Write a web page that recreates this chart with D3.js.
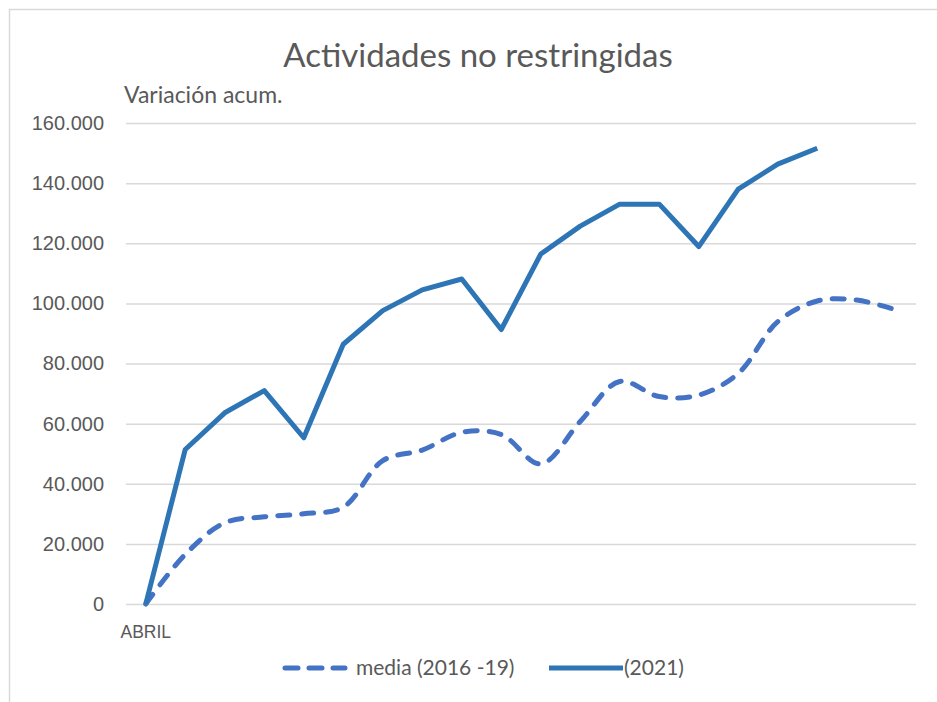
<!DOCTYPE html>
<html>
<head>
<meta charset="utf-8">
<script src="https://cdn.jsdelivr.net/npm/d3@7"></script>
<style>
  body { margin: 0; background: #fff; }
  svg { display: block; font-family: Lato, "Open Sans", sans-serif; }
</style>
</head>
<body>
<div id="chart"></div>
<script>
// Data (cumulative variation)
const categories = ["ABRIL", "", "", "", "", "", "", "", "", "", "", "", "", "", "", "", "", "", "", ""];
const media = [0, 16500, 27000, 29000, 30000, 32200, 47700, 51200, 57100, 56400, 46600, 60700, 74000, 69000, 69500, 76700, 93900, 100800, 101100, 97800];
const y2021 = [0, 51400, 63600, 71000, 55300, 86400, 97600, 104500, 108100, 91300, 116400, 125700, 133000, 133000, 118900, 138000, 146300, 151600];
const yTicks = [0, 20000, 40000, 60000, 80000, 100000, 120000, 140000, 160000];
const seriesNames = ["media (2016 -19)", "(2021)"];

const width = 937, height = 702;
const margin = { top: 123, right: 21, bottom: 98, left: 126 };
const colors = { media: "#4472C4", y2021: "#2E75B6", text: "#595959", grid: "#d9d9d9" };

const svg = d3.select("#chart").append("svg").attr("width", width).attr("height", height);

// light frame of the original chart area
svg.append("rect").attr("x", 9.5).attr("y", 9.5).attr("width", 1000).attr("height", 1000)
  .attr("fill", "none").attr("stroke", colors.grid).attr("stroke-width", 1.5);

const x = d3.scaleBand().domain(d3.range(categories.length)).range([margin.left, width - margin.right]);
const y = d3.scaleLinear().domain([0, 160000]).range([height - margin.bottom, margin.top]);
const cx = i => x(i) + x.bandwidth() / 2;

const fmt = v => v === 0 ? "0" : d3.format(",")(v).replace(/,/g, ".");

// gridlines + y labels
const yAxis = svg.append("g").attr("transform", `translate(${margin.left},0)`)
  .call(d3.axisLeft(y).tickValues(yTicks).tickFormat(fmt)
    .tickSize(-(width - margin.left - margin.right)).tickPadding(22));
yAxis.select(".domain").remove();
yAxis.selectAll(".tick line").attr("stroke", colors.grid).attr("stroke-width", 1.5);
yAxis.selectAll(".tick text").attr("fill", colors.text).style("font-size", "20px");

// category labels
const xAxis = svg.append("g").attr("transform", `translate(0,${height - margin.bottom})`)
  .call(d3.axisBottom(x).tickFormat(i => categories[i]).tickSize(0).tickPadding(22));
xAxis.select(".domain").remove();
xAxis.selectAll(".tick text").attr("fill", colors.text).style("font-size", "17.5px");

// lines
const smooth = d3.line().x((d, i) => cx(i)).y(d => y(d)).curve(d3.curveCatmullRom.alpha(0.5));
const straight = d3.line().x((d, i) => cx(i)).y(d => y(d));

svg.append("path").datum(media).attr("d", smooth)
  .attr("fill", "none").attr("stroke", colors.media).attr("stroke-width", 5)
  .attr("stroke-dasharray", "12,12").attr("stroke-linecap", "round");

svg.append("path").datum(y2021).attr("d", straight)
  .attr("fill", "none").attr("stroke", colors.y2021).attr("stroke-width", 5)
  .attr("stroke-linejoin", "round");

// title + subtitle
svg.append("text").attr("x", 478).attr("y", 67).attr("text-anchor", "middle")
  .attr("fill", colors.text).style("font-size", "33px").text("Actividades no restringidas");
svg.append("text").attr("x", 124).attr("y", 103)
  .attr("fill", colors.text).style("font-size", "23px").text("Variación acum.");

// legend
const legend = svg.append("g").attr("transform", "translate(0,668)");
legend.append("line").attr("x1", 285).attr("x2", 345).attr("y1", 0).attr("y2", 0)
  .attr("stroke", colors.media).attr("stroke-width", 5)
  .attr("stroke-dasharray", "13,11").attr("stroke-linecap", "round");
legend.append("text").attr("x", 356).attr("y", 0).attr("dy", "0.35em")
  .attr("fill", colors.text).style("font-size", "21px").text(seriesNames[0]);
legend.append("line").attr("x1", 549).attr("x2", 623).attr("y1", 0).attr("y2", 0)
  .attr("stroke", colors.y2021).attr("stroke-width", 5);
legend.append("text").attr("x", 624).attr("y", 0).attr("dy", "0.35em")
  .attr("fill", colors.text).style("font-size", "21px").text(seriesNames[1]);
</script>
</body>
</html>
